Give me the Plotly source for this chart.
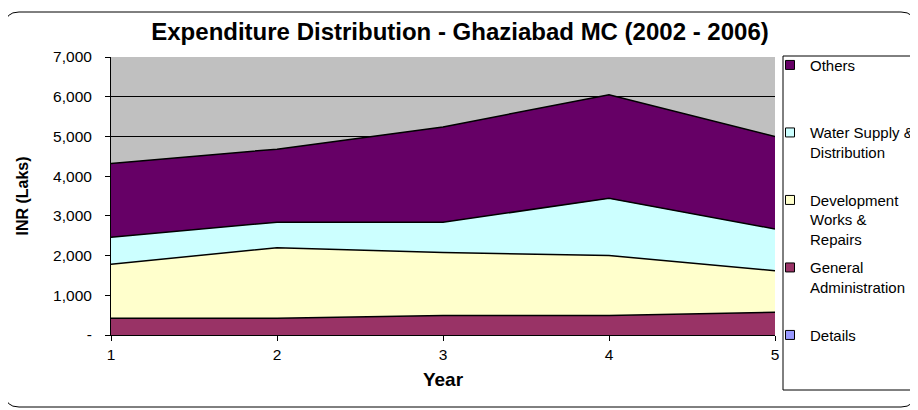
import plotly.graph_objects as go

# ---- data ----
years = [1, 2, 3, 4, 5]
general_admin = [420, 420, 490, 490, 570]
development_works = [1360, 1780, 1590, 1510, 1050]
water_supply = [680, 640, 760, 1440, 1050]
others = [1860, 1840, 2400, 2610, 2330]
details = [0, 0, 0, 0, 0]

y_tick_vals = [0, 1000, 2000, 3000, 4000, 5000, 6000, 7000]
y_tick_text = ["-", "1,000", "2,000", "3,000", "4,000", "5,000", "6,000", "7,000"]

# stacking order (bottom first)
series = [
    ("Details", details, "#9999FF", "Details"),
    ("General Administration", general_admin, "#993366", "General<br>Administration<br>\u00a0"),
    ("Development Works & Repairs", development_works, "#FFFFCC", "Development<br>Works &<br>Repairs"),
    ("Water Supply & Distribution", water_supply, "#CCFFFF", "Water Supply &<br>Distribution<br>\u00a0"),
    ("Others", others, "#660066", "Others<br>\u00a0<br>\u00a0"),
]

FONT = "Liberation Sans, Arial, sans-serif"
W, H = 918, 410
OFF = 8  # page body margin
# plot area in screen pixels
SX0, SX1, SY0, SY1 = 111, 775, 57, 335
ML, MT = SX0 - OFF, SY0 - OFF
MR, MB = W - (SX1 - OFF), H - (SY1 - OFF)
PW, PH = SX1 - SX0, SY1 - SY0


def px(x):
    return (x - SX0) / PW


def py(y):
    return (SY1 - y) / PH


fig = go.Figure()

# stacked areas
for name, vals, color, label in series:
    fig.add_trace(go.Scatter(
        x=years, y=vals, name=name, stackgroup="one", mode="lines",
        line=dict(color="black", width=1.5 if name != "Details" else 0),
        fillcolor=color, showlegend=False, hoverinfo="x+y+name",
    ))

# legend entries (square swatches), top to bottom
for i, (name, vals, color, label) in enumerate(reversed(series)):
    fig.add_trace(go.Scatter(
        x=[None], y=[None], name=label, mode="markers",
        marker=dict(symbol="square", size=9, color=color,
                    line=dict(color="black", width=1)),
        legendgroup=str(i), showlegend=True, hoverinfo="skip",
    ))

# outer rounded border
x0, x1, y0, y1, r = 5, 915, 12, 407, 14
path = (
    f"M {px(x0 + r)},{py(y0)} L {px(x1 - r)},{py(y0)} "
    f"Q {px(x1)},{py(y0)} {px(x1)},{py(y0 + r)} "
    f"L {px(x1)},{py(y1 - r)} Q {px(x1)},{py(y1)} {px(x1 - r)},{py(y1)} "
    f"L {px(x0 + r)},{py(y1)} Q {px(x0)},{py(y1)} {px(x0)},{py(y1 - r)} "
    f"L {px(x0)},{py(y0 + r)} Q {px(x0)},{py(y0)} {px(x0 + r)},{py(y0)} Z"
)
shapes = [
    dict(type="path", xref="paper", yref="paper", path=path,
         line=dict(color="black", width=1), layer="below"),
    dict(type="rect", xref="paper", yref="paper",
         x0=px(783), x1=px(930), y0=py(390), y1=py(56),
         line=dict(color="black", width=1), fillcolor="rgba(0,0,0,0)"),
]

fig.update_layout(
    width=W, height=H,
    margin=dict(l=ML, r=MR, t=MT, b=MB, autoexpand=False),
    paper_bgcolor="white", plot_bgcolor="#C0C0C0",
    font=dict(family=FONT, size=15.5, color="black"),
    title=dict(text="<b>Expenditure Distribution - Ghaziabad MC (2002 - 2006)</b>",
               x=(460 - OFF) / W, xanchor="center", xref="container",
               y=1 - (32 - OFF) / H, yanchor="middle", yref="container",
               font=dict(family=FONT, size=24, color="black")),
    xaxis=dict(range=[1, 5], tickvals=years, ticktext=[str(v) for v in years],
               showgrid=False, zeroline=False, showline=True, linecolor="black",
               linewidth=1, ticks="outside", ticklen=5, tickcolor="black",
               ticklabelstandoff=0,
               title=dict(text="<b>Year</b>", standoff=11,
                          font=dict(family=FONT, size=19))),
    yaxis=dict(range=[0, 7000], tickvals=y_tick_vals, ticktext=y_tick_text,
               showgrid=True, gridcolor="black", gridwidth=1, zeroline=False,
               showline=True, linecolor="black", linewidth=1,
               ticks="outside", ticklen=5, tickcolor="black",
               ticklabelstandoff=10,
               title=dict(text="<b>INR (Laks)</b>", standoff=20,
                          font=dict(family=FONT, size=16))),
    legend=dict(x=px(770), xanchor="left", y=py(48.7), yanchor="top",
                bgcolor="rgba(0,0,0,0)", borderwidth=0, valign="top",
                tracegroupgap=6, traceorder="grouped", maxheight=400,
                itemwidth=30,
                font=dict(family=FONT, size=15)),
    shapes=shapes,
    showlegend=True,
)

fig.write_html("out.html")
